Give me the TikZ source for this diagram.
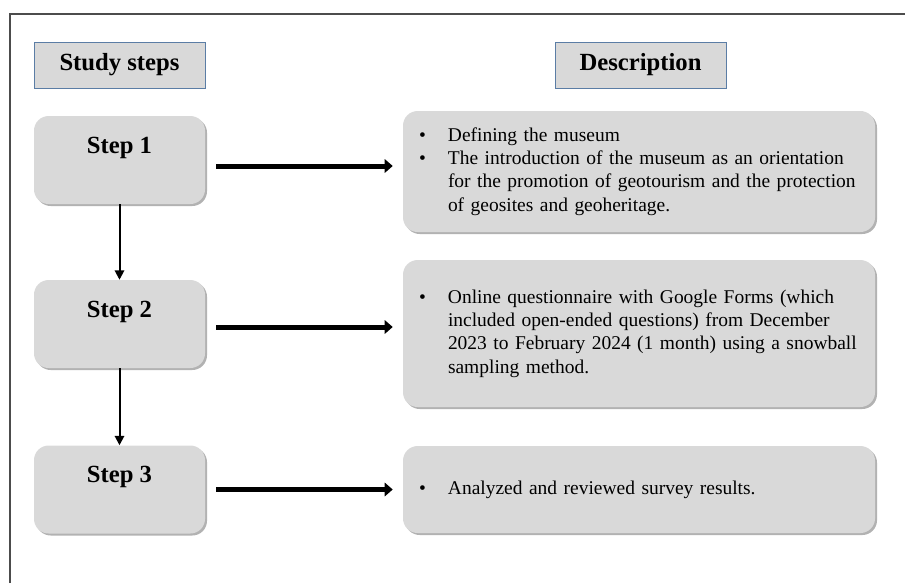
\documentclass[tikz,border=0pt]{standalone}
\usepackage{fontspec}
\setmainfont{Liberation Serif}
\usepackage{tikz}
\usetikzlibrary{arrows.meta,shadows}
\definecolor{boxgray}{RGB}{217,217,217}
\definecolor{headline}{RGB}{91,125,165}
\newcommand{\bul}{\makebox[21.75pt][l]{\textbullet}}
\newcommand{\ind}{\hspace*{21.75pt}}

\begin{document}
\begin{tikzpicture}[x=0.75pt,y=-0.75pt]
			\tikzstyle{head} = [draw=headline, fill=boxgray, minimum width=128.25pt, minimum height=34.5pt, font=\fontsize{18.5}{22}\selectfont\bfseries]
			\tikzstyle{stp} = [fill=boxgray, rounded corners=11pt, minimum width=128.25pt, minimum height=66pt, drop shadow={shadow xshift=1.5pt, shadow yshift=-1.5pt, opacity=0.3, fill=black}]
			\tikzstyle{stplabel} = [anchor=center, yshift=-24pt, font=\fontsize{18.5}{22}\selectfont\bfseries]
			\tikzstyle{desc} = [fill=boxgray, rounded corners=11pt, text width=330pt, inner xsep=12pt, align=left, font=\fontsize{14.6}{17.5}\selectfont, drop shadow={shadow xshift=1.5pt, shadow yshift=-1.5pt, opacity=0.3, fill=black}]
			\tikzstyle{hbar} = [line width=3.75pt, -{Triangle[length=6pt,width=10pt]}, shorten <=8.25pt, shorten >=7.5pt]
			\tikzstyle{vbar} = [line width=1.5pt, -{Triangle[length=7pt,width=7pt]}]
			
			\useasboundingbox (0,0) rectangle (905,583);
			\draw [line width=1.2pt, black!70] (10,583) -- (10,14) -- (905,14);
			
			\node [head] (h1) at (119.5,65) {Study steps};
			\node [head] (h2) at (640.5,65) {Description};
			
			\node [stp, label={[stplabel]north:Step 1}] (s1) at (119.5,160) {};
			\node [stp, label={[stplabel]north:Step 2}] (s2) at (119.5,324) {};
			\node [stp, label={[stplabel]north:Step 3}] (s3) at (119.5,489.5) {};
			
			\node [desc, minimum height=90.75pt] (d1) at (639,171.5) {\bul Defining the museum\\
				\bul The introduction of the museum as an orientation\\
				\ind for the promotion of geotourism and the protection\\
				\ind of geosites and geoheritage.};
			\node [desc, minimum height=110.25pt] (d2) at (639,333.5) {\bul Online questionnaire with Google Forms (which\\
				\ind included open-ended questions) from December\\
				\ind 2023 to February 2024 (1 month) using a snowball\\
				\ind sampling method.};
			\node [desc, minimum height=65.25pt] (d3) at (639,489.5) {\bul Analyzed and reviewed survey results.};
			
			\draw [vbar] (s1) -- (s2);
			\draw [vbar] (s2) -- (s3);
			
			\draw [hbar] ([yshift=-4.5pt]s1.east) -- ([yshift=-4.5pt]s1.east -| d1.west);
			\draw [hbar] ([yshift=-2.25pt]s2.east) -- ([yshift=-2.25pt]s2.east -| d2.west);
			\draw [hbar] (s3.east) -- (d3.west);
			
		\end{tikzpicture}
\end{document}
